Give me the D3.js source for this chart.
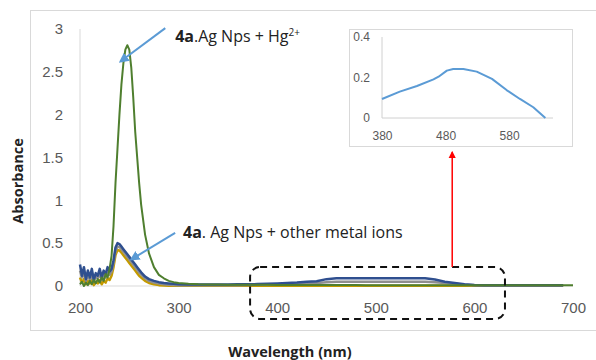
<!DOCTYPE html>
<html lang="en">
<head>
    <meta charset="UTF-8">
    <title>Absorbance spectra</title>
    <style>
        body {
            margin: 0;
            background-color: white;
        }
        svg {
            display: block;
            font-family: "Open Sans", Lato, sans-serif;
        }
        .tick text {
            fill: #595959;
        }
    </style>
    <script src="https://d3js.org/d3.v7.min.js"></script>
</head>
<body>
<script>
    // wavelengths shared by every main-chart series (nm)
    const wavelengths = [200, 202, 204, 206, 208, 210, 212, 214, 216, 218, 220, 222, 224, 226, 228, 230,
        232, 234, 236, 238, 240, 242, 244, 246, 248, 250, 252, 254, 256, 258, 260, 262, 266, 270, 275,
        280, 285, 290, 295, 300, 310, 320, 330, 340, 350, 360, 370, 380, 390, 400, 410, 420, 430, 440,
        450, 460, 470, 480, 490, 500, 510, 520, 530, 540, 550, 560, 570, 580, 590, 600, 610, 620, 630,
        640, 650, 660, 670, 680, 690, 700];

    // 4a Ag Nps + Hg2+
    const hgValues = [0.02, 0.05, 0.0, 0.04, 0.01, 0.06, 0.02, 0.07, 0.03, 0.08, 0.04, 0.1, 0.06, 0.14, 0.1, 0.2,
        0.35, 0.7, 1.2, 1.6, 2.0, 2.35, 2.6, 2.76, 2.81, 2.76, 2.55, 2.2, 1.8, 1.5, 1.2, 0.95, 0.6, 0.38, 0.22,
        0.13, 0.09, 0.06, 0.045, 0.035, 0.025, 0.02, 0.018, 0.017, 0.016, 0.015, 0.015, 0.014, 0.014, 0.013,
        0.013, 0.012, 0.012, 0.012, 0.011, 0.011, 0.011, 0.011, 0.01, 0.01, 0.01, 0.01, 0.01, 0.01, 0.01,
        0.01, 0.01, 0.01, 0.01, 0.01, 0.01, 0.01, 0.01, 0.01, 0.01, 0.01, 0.01, 0.01, 0.01, 0.01];

    // 4a Ag Nps + other metal ions (three overlapping traces)
    const otherBlue = [0.25, 0.12, 0.22, 0.08, 0.18, 0.1, 0.2, 0.07, 0.15, 0.12, 0.2, 0.1, 0.18, 0.14, 0.22, 0.17,
        0.2, 0.3, 0.45, 0.5, 0.49, 0.46, 0.43, 0.4, 0.37, 0.34, 0.31, 0.28, 0.25, 0.22, 0.19, 0.16, 0.11, 0.08, 0.06,
        0.045, 0.035, 0.03, 0.025, 0.02, 0.018, 0.017, 0.017, 0.018, 0.018, 0.019, 0.02, 0.022, 0.026, 0.03,
        0.035, 0.04, 0.05, 0.055, 0.08, 0.09, 0.09, 0.09, 0.09, 0.09, 0.09, 0.09, 0.09, 0.09, 0.09,
        0.075, 0.05, 0.035, 0.02, 0.012, 0.009, 0.008, 0.008, 0.008, 0.008, 0.008, 0.008, 0.008, 0.008, null];
    const otherGray = [0.18, 0.1, 0.15, 0.06, 0.13, 0.07, 0.14, 0.05, 0.11, 0.09, 0.14, 0.07, 0.13, 0.1, 0.16, 0.13,
        0.17, 0.27, 0.41, 0.46, 0.455, 0.43, 0.4, 0.37, 0.34, 0.31, 0.28, 0.25, 0.22, 0.19, 0.16, 0.135, 0.09, 0.06, 0.04,
        0.03, 0.02, 0.015, 0.012, 0.01, 0.01, 0.01, 0.01, 0.01, 0.01, 0.01, 0.012, 0.014, 0.016, 0.02,
        0.024, 0.028, 0.03, 0.035, 0.045, 0.05, 0.05, 0.05, 0.05, 0.05, 0.05, 0.05, 0.05, 0.05, 0.05,
        0.045, 0.035, 0.025, 0.015, 0.008, 0.006, 0.006, 0.006, 0.006, 0.006, 0.006, 0.006, 0.006, 0.006, null];
    const otherGold = [0.1, 0.04, 0.08, 0.02, 0.06, 0.03, 0.07, 0.01, 0.05, 0.03, 0.07, 0.02, 0.06, 0.04, 0.09, 0.07,
        0.12, 0.22, 0.36, 0.42, 0.415, 0.39, 0.36, 0.33, 0.3, 0.27, 0.24, 0.21, 0.18, 0.15, 0.12, 0.1, 0.06, 0.035, 0.02,
        0.01, 0.005, 0.004, 0.003, 0.003, 0.003, 0.003, 0.003, 0.003, 0.003, 0.003, 0.003, 0.003, 0.003, 0.003,
        0.003, 0.003, 0.003, 0.003, 0.003, 0.003, 0.003, 0.003, 0.003, 0.003, 0.003, 0.003, 0.003, 0.003, 0.003,
        0.003, 0.003, 0.003, 0.003, 0.003, 0.003, 0.003, 0.003, 0.003, 0.003, 0.003, 0.003, 0.003, 0.003, null];

    const xTicks = [200, 300, 400, 500, 600, 700];
    const yTicks = [0, 0.5, 1, 1.5, 2, 2.5, 3];

    // inset: zoom of the 380-640 nm band
    const insetWavelengths = [380, 408, 435, 461, 469, 482, 492, 508, 529, 553, 576, 597, 618, 637];
    const insetValues = [0.094, 0.13, 0.158, 0.191, 0.204, 0.234, 0.242, 0.242, 0.229, 0.193, 0.138, 0.094, 0.053, 0];
    const insetXTicks = [380, 480, 580];
    const insetYTicks = [0, 0.2, 0.4];

    const width = 596;
    const height = 360;

    const svg = d3.select("body")
                  .append("svg")
                  .attr("width", width)
                  .attr("height", height);

    const x = d3.scaleLinear().domain([200, 700]).range([80, 573]);
    const y = d3.scaleLinear().domain([0, 3]).range([286, 29]);

    // arrow heads
    const defs = svg.append("defs");
    function marker(id, color) {
        defs.append("marker")
            .attr("id", id)
            .attr("viewBox", "0 0 10 10")
            .attr("refX", 8).attr("refY", 5)
            .attr("markerWidth", 5).attr("markerHeight", 5)
            .attr("orient", "auto")
            .append("path")
            .attr("d", "M0,0 L10,5 L0,10 z")
            .attr("fill", color);
    }
    marker("blueHead", "#5B9BD5");
    marker("redHead", "#FF0000");

    // chart frame
    svg.append("rect")
       .attr("x", 30.5).attr("y", 10.5)
       .attr("width", 620).attr("height", 320)
       .attr("fill", "none")
       .attr("stroke", "#D9D9D9");

    // axes
    svg.append("line")
       .attr("x1", x(200)).attr("x2", x(200))
       .attr("y1", y(3)).attr("y2", y(0))
       .attr("stroke", "#D9D9D9");
    svg.append("line")
       .attr("x1", x(200)).attr("x2", x(700))
       .attr("y1", y(0)).attr("y2", y(0))
       .attr("stroke", "#D9D9D9");

    svg.append("g")
       .attr("transform", `translate(${x(200) - 17},0)`)
       .call(d3.axisLeft(y).tickValues(yTicks).tickSize(0).tickPadding(0).tickFormat(d3.format("")))
       .call(g => g.select(".domain").remove())
       .selectAll("text")
       .style("font-size", "15px");

    svg.append("g")
       .attr("transform", `translate(0,${y(0) + 16})`)
       .call(d3.axisBottom(x).tickValues(xTicks).tickSize(0).tickPadding(0))
       .call(g => g.select(".domain").remove())
       .selectAll("text")
       .style("font-size", "15px");

    svg.append("text")
       .attr("transform", `translate(23,181) rotate(-90)`)
       .attr("text-anchor", "middle")
       .style("font-size", "14.5px")
       .style("font-weight", "bold")
       .attr("fill", "#222")
       .text("Absorbance");

    svg.append("text")
       .attr("x", 290).attr("y", 357)
       .attr("text-anchor", "middle")
       .style("font-size", "14.5px")
       .style("font-weight", "bold")
       .attr("fill", "#222")
       .text("Wavelength (nm)");

    // spectra
    const line = d3.line()
                   .defined(d => d[1] !== null)
                   .x(d => x(d[0]))
                   .y(d => y(d[1]));

    const series = [
        { values: otherGold, color: "#C49A00", w: 2.5 },
        { values: otherGray, color: "#8E8E8E", w: 2.5 },
        { values: otherBlue, color: "#2F4F8F", w: 2.5 },
        { values: hgValues, color: "#4F7F2F", w: 2 }
    ];

    svg.selectAll(".spectrum")
       .data(series)
       .enter()
       .append("path")
       .attr("class", "spectrum")
       .attr("fill", "none")
       .attr("stroke", d => d.color)
       .attr("stroke-width", d => d.w)
       .attr("stroke-linejoin", "round")
       .attr("d", d => line(wavelengths.map((w, i) => [w, d.values[i]])));

    // dashed box around the 400-600 nm band
    svg.append("rect")
       .attr("x", x(372.5)).attr("y", y(0.222))
       .attr("width", x(631) - x(372.5))
       .attr("height", y(-0.385) - y(0.222))
       .attr("rx", 10)
       .attr("fill", "none")
       .attr("stroke", "#111")
       .attr("stroke-width", 2)
       .attr("stroke-dasharray", "7,5");

    // red arrow to inset
    svg.append("line")
       .attr("x1", x(577.5)).attr("x2", x(577.5))
       .attr("y1", y(0.222)).attr("y2", y(1.56))
       .attr("stroke", "#FF0000")
       .attr("stroke-width", 1.5)
       .attr("marker-end", "url(#redHead)");

    // annotations
    svg.append("line")
       .attr("x1", x(286.5)).attr("y1", y(3.01))
       .attr("x2", x(241)).attr("y2", y(2.62))
       .attr("stroke", "#5B9BD5")
       .attr("stroke-width", 2)
       .attr("marker-end", "url(#blueHead)");

    const t1 = svg.append("text")
       .attr("x", x(296.5)).attr("y", 42)
       .style("font-size", "16px")
       .attr("fill", "#222");
    t1.append("tspan").style("font-weight", "bold").text("4a");
    t1.append("tspan").text(".Ag Nps + Hg");
    t1.append("tspan").attr("dy", -6).style("font-size", "10px").text("2+");

    svg.append("line")
       .attr("x1", x(296.5)).attr("y1", y(0.62))
       .attr("x2", x(252)).attr("y2", y(0.31))
       .attr("stroke", "#5B9BD5")
       .attr("stroke-width", 2)
       .attr("marker-end", "url(#blueHead)");

    const t2 = svg.append("text")
       .attr("x", x(304.5)).attr("y", 238)
       .style("font-size", "16px")
       .attr("fill", "#222");
    t2.append("tspan").style("font-weight", "bold").text("4a");
    t2.append("tspan").text(". Ag Nps + other metal ions");

    // inset chart
    const ix = d3.scaleLinear().domain([380, 649]).range([382, 553]);
    const iy = d3.scaleLinear().domain([0, 0.4]).range([118, 37]);

    svg.append("rect")
       .attr("x", 349.5).attr("y", 29.5)
       .attr("width", 223).attr("height", 117)
       .attr("fill", "white")
       .attr("stroke", "#D9D9D9");

    svg.append("line")
       .attr("x1", ix(380)).attr("x2", ix(380))
       .attr("y1", iy(0.4)).attr("y2", iy(0))
       .attr("stroke", "#D0D0D0");
    svg.append("line")
       .attr("x1", ix(380)).attr("x2", ix(649))
       .attr("y1", iy(0)).attr("y2", iy(0))
       .attr("stroke", "#D0D0D0");

    svg.append("g")
       .attr("transform", `translate(${ix(380) - 12},0)`)
       .call(d3.axisLeft(iy).tickValues(insetYTicks).tickSize(0).tickPadding(0).tickFormat(d3.format("")))
       .call(g => g.select(".domain").remove())
       .selectAll("text")
       .style("font-size", "12px");

    svg.append("g")
       .attr("transform", `translate(0,${iy(0) + 13})`)
       .call(d3.axisBottom(ix).tickValues(insetXTicks).tickSize(0).tickPadding(0))
       .call(g => g.select(".domain").remove())
       .selectAll("text")
       .style("font-size", "12px");

    svg.append("path")
       .attr("fill", "none")
       .attr("stroke", "#5B9BD5")
       .attr("stroke-width", 2)
       .attr("stroke-linejoin", "round")
       .attr("d", d3.line()
                    .x(d => ix(d[0])).y(d => iy(d[1]))(insetWavelengths.map((w, i) => [w, insetValues[i]])));
</script>
</body>
</html>
